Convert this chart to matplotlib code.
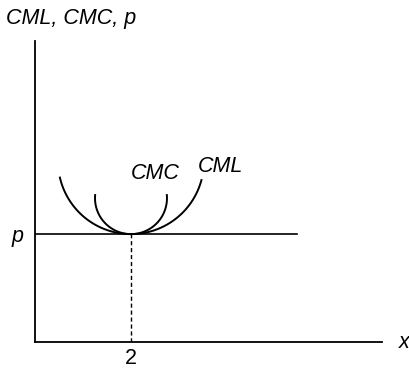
import numpy as np
import matplotlib.pyplot as plt

# --- model levels for the long-run competitive firm
p_level = 10.0      # market price
x_star = 2.0        # output at minimum of the cost curves
x_max = 7.23
y_max = 27.9

# U-shaped cost curves drawn as arcs: half-width, half-height, angle range (deg)
cml_shape = (1.52, 6.76, -77, 75)
cmc_shape = (0.75, 3.33, -95, 95)

x_ticks = [2]
x_tick_labels = ['2']

plt.rcParams['font.family'] = ['Liberation Sans', 'DejaVu Sans']
fs = 15.5

fig = plt.figure(figsize=(4.10, 3.71), dpi=100)
ax = fig.add_axes([35 / 410, 29 / 371, 347 / 410, 301 / 371])

def cost_curve(rx, ry, a0, a1):
    t = np.radians(np.linspace(a0, a1, 200))
    return x_star + rx * np.sin(t), p_level + ry * (1 - np.cos(t))

xs, ys = cost_curve(*cml_shape)
ax.plot(xs, ys, color='black', lw=1.4)
xs, ys = cost_curve(*cmc_shape)
ax.plot(xs, ys, color='black', lw=1.4)

# price line and dashed drop to the output axis
ax.plot([0, 5.46], [p_level, p_level], color='black', lw=1.2)
ax.plot([x_star, x_star], [0, p_level], color='black', lw=1.0, ls=(0, (3, 2)))

ax.set_xlim(0, x_max)
ax.set_ylim(0, y_max)
for side in ['top', 'right']:
    ax.spines[side].set_visible(False)
for side in ['left', 'bottom']:
    ax.spines[side].set_linewidth(1.3)
ax.set_xticks(x_ticks)
ax.set_xticklabels(x_tick_labels, fontsize=fs)
ax.tick_params(axis='x', length=0, pad=4)
ax.set_yticks([p_level])
ax.set_yticklabels(['p'], fontsize=fs, style='italic')
ax.tick_params(axis='y', length=0, pad=8)

ax.text(-0.6, y_max + 1.1, 'CML, CMC, p', fontsize=fs, style='italic',
        ha='left', va='bottom')
ax.text(x_max + 0.35, 0, 'x', fontsize=fs, style='italic', ha='left', va='center')
ax.text(2.5, 14.65, 'CMC', fontsize=fs, style='italic', ha='center', va='bottom')
ax.text(3.87, 15.3, 'CML', fontsize=fs, style='italic', ha='center', va='bottom')

fig.savefig('out.png', dpi=100)
